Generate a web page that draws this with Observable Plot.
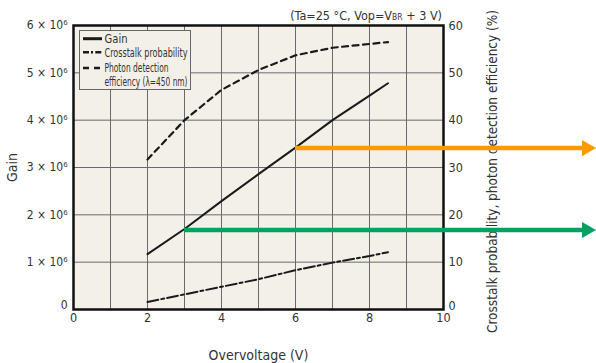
<!DOCTYPE html>
<html><head><meta charset="utf-8">
<script src="https://cdn.jsdelivr.net/npm/d3@7"></script>
<script src="https://cdn.jsdelivr.net/npm/@observablehq/plot@0.6"></script>
<style>body{margin:0;background:#fff}</style>
</head><body><div id="chart"></div>
<script>
// ---- data ----
const voltage    = [2, 3, 4, 5, 6, 7, 8, 8.5];
const gain       = [1.17e6, 1.70e6, 2.29e6, 2.86e6, 3.42e6, 4.0e6, 4.52e6, 4.78e6];
const crosstalk  = [1.6, 3.2, 4.8, 6.4, 8.3, 9.9, 11.3, 12.1];        // %
const pde        = [31.7, 40.0, 46.4, 50.6, 53.7, 55.3, 56.1, 56.5];  // %
const xTicks     = [0, 2, 4, 6, 8, 10];
const gainTicks  = [0, 1e6, 2e6, 3e6, 4e6, 5e6, 6e6];
const gainLabels = ["0", "1 × 10⁶", "2 × 10⁶", "3 × 10⁶", "4 × 10⁶", "5 × 10⁶", "6 × 10⁶"];
const pctTicks   = [0, 10, 20, 30, 40, 50, 60];
const arrowStartV = [6, 3];
const arrowGain   = [3.41e6, 1.68e6];
const arrowColor  = ["#ff9900", "#00a262"];
const arrowEndV   = 13.87;
const legendNames = ["Gain", "Crosstalk probability", "Photon detection", "efficiency (λ=450 nm)"];

const pctScale = 1e5; // 60 % ↔ 6 × 10⁶ on the shared vertical scale
const gainRows = voltage.map((v, i) => ({v, y: gain[i]}));
const ctRows   = voltage.map((v, i) => ({v, y: crosstalk[i] * pctScale}));
const pdeRows  = voltage.map((v, i) => ({v, y: pde[i] * pctScale}));
const arrows   = arrowStartV.map((v, i) => ({v, y: arrowGain[i], c: arrowColor[i]}));
const leftAxis  = gainTicks.map((t, i) => ({t, label: gainLabels[i]}));
const rightAxis = pctTicks.map(p => ({t: p * pctScale, label: String(p)}));

const ink = "#1a1a1a";
const bg = "#f3f0ea";
const font = "'DejaVu Sans Condensed', 'DejaVu Sans', sans-serif";
const yAxisPair = (rows, anchor, pad, size) => {
  const fmt = d => rows.find(r => r.t === d).label;
  return [
    Plot.axisY(rows.filter(r => r.t === 0).map(r => r.t), {anchor, tickSize: 0, tickPadding: pad, label: null, tickFormat: fmt, fontSize: size, dy: -4}),
    Plot.axisY(rows.filter(r => r.t !== 0).map(r => r.t), {anchor, tickSize: 0, tickPadding: pad, label: null, tickFormat: fmt, fontSize: size})
  ];
};
const chart = Plot.plot({
  width: 596, height: 363,
  marginLeft: 73, marginRight: 153, marginTop: 25, marginBottom: 54,
  style: {fontFamily: font, fontSize: "12px", background: "#fff", overflow: "visible", color: "#333"},
  x: {domain: [0, 10]},
  y: {domain: [0, 6e6]},
  color: {type: "identity"},
  marks: [
    Plot.frame({fill: bg}),
    Plot.gridX(d3.range(0, 11), {stroke: "#6a6a6a", strokeOpacity: 1, strokeWidth: 1}),
    Plot.gridY(gainTicks, {stroke: "#6a6a6a", strokeOpacity: 1, strokeWidth: 1}),
    Plot.line(pdeRows, {x: "v", y: "y", stroke: ink, strokeWidth: 2.2, strokeDasharray: "6,4.5"}),
    Plot.line(ctRows, {x: "v", y: "y", stroke: ink, strokeWidth: 2, strokeDasharray: "11,3,3,3"}),
    Plot.line(gainRows, {x: "v", y: "y", stroke: ink, strokeWidth: 2}),
    Plot.frame({stroke: "#111", strokeWidth: 2.5}),
    Plot.axisX(xTicks, {tickSize: 0, tickPadding: 4, label: null, fontSize: 12.5}),
    ...yAxisPair(leftAxis, "left", 6, 12),
    ...yAxisPair(rightAxis, "right", 5, 12.5),
    Plot.text(["Gain"], {frameAnchor: "left", dx: -61, rotate: -90, textAnchor: "middle", lineAnchor: "middle", fontSize: 14, fill: "#333"}),
    Plot.text(["Crosstalk probability, photon detection efficiency (%)"], {frameAnchor: "right", dx: 49, dy: 4, rotate: -90, textAnchor: "middle", lineAnchor: "middle", fontSize: 13.5, fill: "#333"}),
    Plot.text(["Overvoltage (V)"], {frameAnchor: "bottom", dy: 46, lineAnchor: "middle", fontSize: 14, fill: "#333"}),
    Plot.ruleY(arrows, {x1: "v", x2: arrowEndV, y: "y", stroke: "c", strokeWidth: 4.5}),
    Plot.dot(arrows, {x: arrowEndV, y: "y", symbol: "triangle", rotate: 90, r: 6, fill: "c", stroke: null})
  ]
});
document.getElementById("chart").append(chart);

// condition note above the frame
const svg = d3.select(chart);
const note = svg.append("text").attr("x", 442).attr("y", 19.5).attr("text-anchor", "end")
  .attr("font-size", 12.5).attr("fill", "#333");
note.append("tspan").text("(Ta=25 °C, Vop=V");
note.append("tspan").attr("font-size", 8.5).text("BR");
note.append("tspan").text(" + 3 V)");

// legend box
const lg = svg.append("g").attr("text-anchor", "start");
lg.append("rect").attr("x", 79.5).attr("y", 30.5).attr("width", 111).attr("height", 59)
  .attr("fill", bg).attr("stroke", "#666").attr("stroke-width", 1);
const samples = [
  {y: 38.7, dash: null, w: 3},
  {y: 52.3, dash: "6,2,2,2.3", w: 2.5},
  {y: 68, dash: "6,5", w: 2.5}
];
samples.forEach(s => {
  const l = lg.append("line").attr("x1", 83).attr("x2", 102).attr("y1", s.y).attr("y2", s.y)
    .attr("stroke", ink).attr("stroke-width", s.w);
  if (s.dash) l.attr("stroke-dasharray", s.dash);
});
const textRows = [{y: 38.7, len: 23}, {y: 52.3, len: 83}, {y: 67.5, len: 64}, {y: 81.5, len: 83}];
legendNames.forEach((t, i) => {
  lg.append("text").attr("x", 104.5).attr("y", textRows[i].y).attr("dy", "0.36em")
    .attr("font-size", 12).attr("fill", "#333").attr("text-anchor", "start")
    .attr("textLength", textRows[i].len).attr("lengthAdjust", "spacingAndGlyphs").text(t);
});
</script>
</body></html>
